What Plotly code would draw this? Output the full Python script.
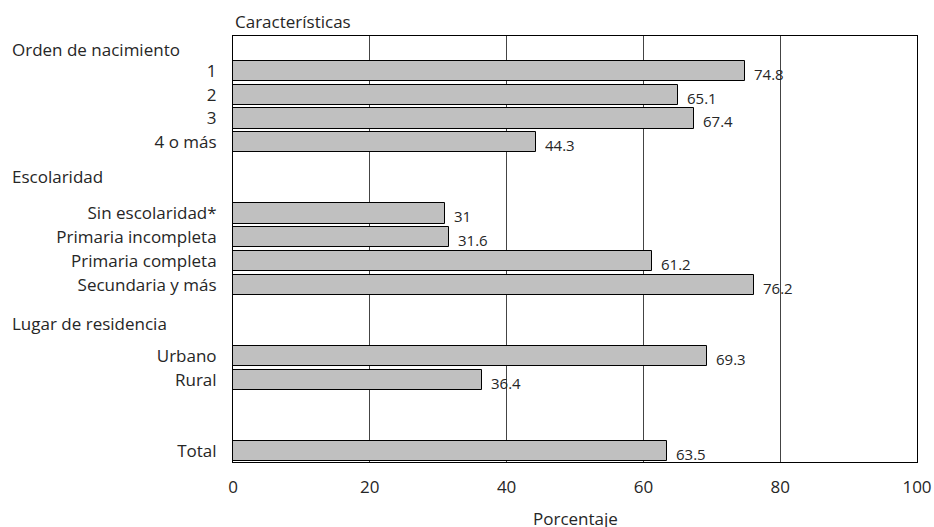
import plotly.graph_objects as go

# Survey groups and their categories
group_names = ["Orden de nacimiento", "Escolaridad", "Lugar de residencia", None]
group_items = [
    ["1", "2", "3", "4 o más"],
    ["Sin escolaridad*", "Primaria incompleta", "Primaria completa", "Secundaria y más"],
    ["Urbano", "Rural"],
    ["Total"],
]
group_values = [
    [74.8, 65.1, 67.4, 44.3],
    [31, 31.6, 61.2, 76.2],
    [69.3, 36.4],
    [63.5],
]
x_ticks = [0, 20, 40, 60, 80, 100]

FONT = "Open Sans"
TEXT_COLOR = "#262626"

# Lay the groups out as rows, leaving two blank rows between groups
rows, labels, values, header_rows = [], [], [], []
header_lift = [0.92, 1.54, 1.35, 0]
slot = 0
for g, (items, vals) in enumerate(zip(group_items, group_values)):
    header_rows.append(slot - header_lift[g])
    for lab, v in zip(items, vals):
        rows.append(slot)
        labels.append(lab)
        values.append(v)
        slot += 1
    slot += 2
last_row = rows[-1]

fig = go.Figure()
fig.add_trace(go.Bar(
    x=values, y=rows, orientation="h", width=0.85,
    marker=dict(color="#c0c0c0", line=dict(color="#000000", width=1)),
    hoverinfo="x+y", showlegend=False,
))

# Value labels to the right of each bar
for v, r in zip(values, rows):
    fig.add_annotation(x=v, y=r, text=f"{v:g}", xref="x", yref="y",
                       xanchor="left", yanchor="middle", xshift=7, yshift=-3,
                       showarrow=False, font=dict(family=FONT, size=15, color=TEXT_COLOR))

# Group headers at the far left
W, ML, MR = 934, 233, 17
PW = W - ML - MR
for name, hr in zip(group_names, header_rows):
    if name is None:
        continue
    fig.add_annotation(x=(10 - ML) / PW, y=hr, xref="paper", yref="y",
                       text=name, xanchor="left", yanchor="middle", showarrow=False,
                       font=dict(family=FONT, size=17, color=TEXT_COLOR))

fig.add_annotation(x=0, y=1, xref="paper", yref="paper", text="Características",
                   xanchor="left", yanchor="bottom", yshift=1, showarrow=False,
                   font=dict(family=FONT, size=17, color=TEXT_COLOR))

# Axis title below the tick labels
fig.add_annotation(x=0.5, y=0, xref="paper", yref="paper", text="Porcentaje",
                   xanchor="center", yanchor="top", yshift=-43, showarrow=False,
                   font=dict(family=FONT, size=17, color=TEXT_COLOR))

fig.update_layout(
    width=W, height=527,
    margin=dict(l=ML, r=MR, t=36, b=65, autoexpand=False),
    paper_bgcolor="white", plot_bgcolor="white",
    font=dict(family=FONT, size=17, color=TEXT_COLOR),
    bargap=0,
)
fig.update_xaxes(
    range=[0, 100], tickvals=x_ticks, showgrid=True, gridcolor="#444444", gridwidth=1,
    zeroline=False, showline=True, linecolor="#000000", linewidth=1, mirror=True,
    ticks="outside", ticklen=10, tickcolor="rgba(0,0,0,0)",
    tickfont=dict(family=FONT, size=17, color=TEXT_COLOR),
    ticklabeloverflow="allow", automargin=False,
)
fig.update_yaxes(
    range=[last_row + 0.46, -1.47], tickvals=rows, ticktext=labels,
    showgrid=False, zeroline=False, showline=True, linecolor="#000000", linewidth=1, mirror=True,
    ticks="outside", ticklen=12, tickcolor="rgba(0,0,0,0)",
    tickfont=dict(family=FONT, size=17, color=TEXT_COLOR),
    automargin=False,
)

fig.write_html("out.html")
